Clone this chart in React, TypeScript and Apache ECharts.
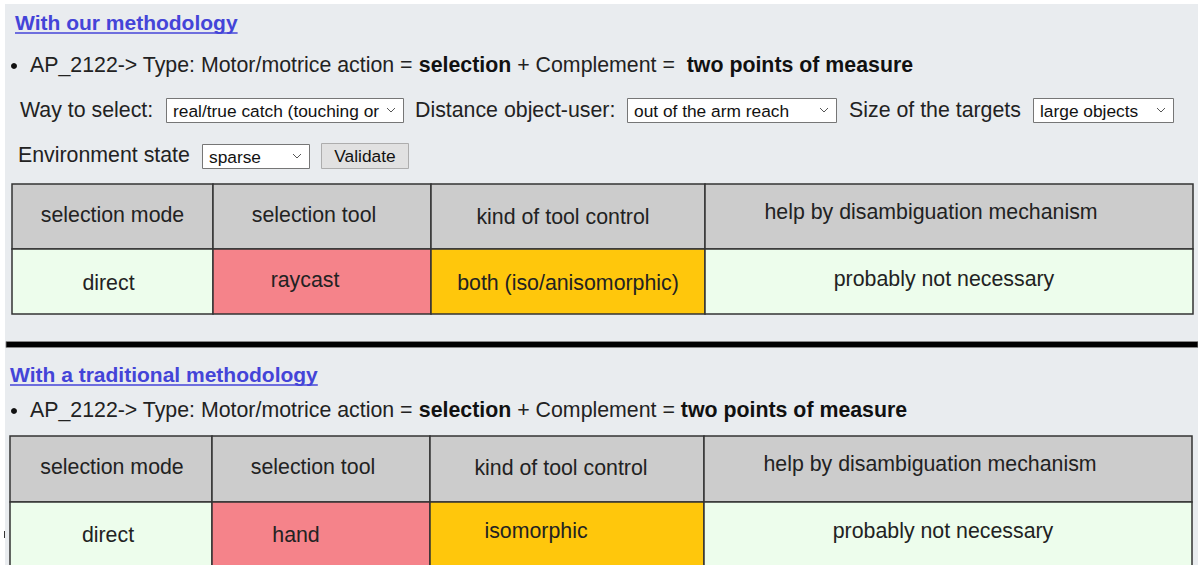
import React, { useEffect, useRef } from 'react';
import * as echarts from 'echarts';

// ---- data ----
const sectionTitles = ['With our methodology', 'With a traditional methodology'];
const apCode = 'AP_2122';
const actionType = 'selection';
const complement = 'two points of measure';
const filterLabels = ['Way to select:', 'Distance object-user:', 'Size of the targets', 'Environment state'];
const filterValues = ['real/true catch (touching or', 'out of the arm reach', 'large objects', 'sparse'];
const buttonLabel = 'Validate';
const columnHeaders = ['selection mode', 'selection tool', 'kind of tool control', 'help by disambiguation mechanism'];
const ourResults = ['direct', 'raycast', 'both (iso/anisomorphic)', 'probably not necessary'];
const traditionalResults = ['direct', 'hand', 'isomorphic', 'probably not necessary'];

// ---- styles ----
const FONT = '"Liberation Sans", Arial, Helvetica, sans-serif';
const BODY = 21.33;
const SMALL = 17.33;
const BG = '#e9ecef';
const TEXT = '#222222';
const LINK = '#4444d8';
const HEADER_FILL = '#cccccc';
const CELL_FILLS = ['#edfdec', '#f5838a', '#ffc70c', '#edfdec'];
const BORDER = '#333333';

function measure(text: string, font: string): number {
  const c = document.createElement('canvas').getContext('2d');
  if (!c) return text.length * 10;
  c.font = font;
  return c.measureText(text).width;
}

function txt(x: number, y: number, s: string, o: any = {}) {
  return {
    type: 'text',
    x,
    y,
    silent: true,
    style: {
      text: s,
      fontFamily: FONT,
      fontSize: o.size ?? BODY,
      fontWeight: o.weight ?? 'normal',
      fill: o.fill ?? TEXT,
      align: o.align ?? 'left',
      verticalAlign: 'middle',
    },
  };
}

function link(x: number, y: number, s: string, g: any[]) {
  const size = 21;
  g.push(txt(x, y, s, { size, weight: 'bold', fill: LINK }));
  const w = measure(s, `bold ${size}px ${FONT}`);
  g.push({
    type: 'line',
    silent: true,
    shape: { x1: x, y1: y + 11, x2: x + w, y2: y + 11 },
    style: { stroke: LINK, lineWidth: 1.5 },
  });
}

function bulletLine(y: number, gap: string, g: any[]) {
  g.push({ type: 'circle', silent: true, shape: { cx: 14, cy: y + 1, r: 3 }, style: { fill: '#111' } });
  g.push({
    type: 'text',
    x: 30,
    y,
    silent: true,
    style: {
      text: `{n|${apCode}-> Type: Motor/motrice action = }{b|${actionType}}{n| + Complement = }{b|${gap}${complement}}`,
      verticalAlign: 'middle',
      rich: {
        n: { fontFamily: FONT, fontSize: BODY, fill: TEXT },
        b: { fontFamily: FONT, fontSize: BODY, fontWeight: 'bold', fill: '#111' },
      },
    },
  });
}

function select(x1: number, x2: number, y1: number, y2: number, value: string, g: any[]) {
  g.push({
    type: 'rect',
    silent: true,
    shape: { x: x1 + 0.5, y: y1 + 0.5, width: x2 - x1, height: y2 - y1 },
    style: { fill: '#ffffff', stroke: '#767676', lineWidth: 1 },
  });
  g.push(txt(x1 + 7, (y1 + y2) / 2 + 1, value, { size: SMALL, fill: '#111' }));
  const cx = x2 - 12;
  const cy = (y1 + y2) / 2;
  g.push({
    type: 'polyline',
    silent: true,
    shape: { points: [[cx - 4, cy - 2], [cx, cy + 2], [cx + 4, cy - 2]] },
    style: { stroke: '#555', lineWidth: 1, fill: 'none' },
  });
}

function table(
  edges: number[],
  y0: number,
  h: number,
  headers: string[],
  values: string[],
  hOff: number[][],
  vOff: number[][],
  g: any[]
) {
  for (let i = 0; i < headers.length; i++) {
    const x1 = edges[i];
    const x2 = edges[i + 1];
    g.push({
      type: 'rect',
      silent: true,
      shape: { x: x1, y: y0, width: x2 - x1, height: h },
      style: { fill: HEADER_FILL, stroke: BORDER, lineWidth: 1.5 },
    });
    g.push({
      type: 'rect',
      silent: true,
      shape: { x: x1, y: y0 + h, width: x2 - x1, height: h },
      style: { fill: CELL_FILLS[i], stroke: BORDER, lineWidth: 1.5 },
    });
    const cx = (x1 + x2) / 2;
    g.push(txt(cx + hOff[i][0], y0 + h / 2 + hOff[i][1], headers[i], { size: BODY, align: 'center' }));
    g.push(txt(cx + vOff[i][0], y0 + h * 1.5 + vOff[i][1], values[i], { size: BODY, align: 'center' }));
  }
}

export default function App() {
  const ref = useRef<HTMLDivElement>(null);
  useEffect(() => {
    const el = ref.current;
    if (!el) return;
    const chart = echarts.init(el, null, { renderer: 'svg' });
    const g: any[] = [];

    // page background
    g.push({ type: 'rect', silent: true, shape: { x: 5, y: 4, width: 1193, height: 561 }, style: { fill: BG } });

    // ----- section 1 -----
    link(15, 22, sectionTitles[0], g);
    bulletLine(65, ' ', g);

    g.push(txt(20, 110, filterLabels[0]));
    select(166, 403, 98, 122, filterValues[0], g);
    g.push(txt(415, 110, filterLabels[1]));
    select(627, 836, 98, 122, filterValues[1], g);
    g.push(txt(849, 110, filterLabels[2]));
    select(1033, 1173, 98, 122, filterValues[2], g);

    g.push(txt(18, 155, filterLabels[3]));
    select(202, 309, 144, 168, filterValues[3], g);
    g.push({
      type: 'rect',
      silent: true,
      shape: { x: 321.5, y: 143.5, width: 87, height: 25 },
      style: { fill: '#e1e1e1', stroke: '#adadad', lineWidth: 1 },
    });
    g.push(txt(365, 156, buttonLabel, { size: SMALL, align: 'center', fill: '#111' }));

    table(
      [12, 213, 431, 705, 1193],
      184,
      65,
      columnHeaders,
      ourResults,
      [[0, -2], [-8, -2], [-5, 0], [-18, -5]],
      [[-4, 1], [-17, -2], [0, 1], [-5, -3]],
      g
    );

    // separator bar
    g.push({
      type: 'rect',
      silent: true,
      shape: { x: 6, y: 341.5, width: 1192, height: 6 },
      style: { fill: '#000000', stroke: '#8a8a8a', lineWidth: 0.8 },
    });

    // ----- section 2 -----
    link(10, 374, sectionTitles[1], g);
    bulletLine(410, '', g);

    table(
      [10, 212, 430, 704, 1192],
      436,
      66,
      columnHeaders,
      traditionalResults,
      [[1, -2], [-8, -2], [-6, -1], [-18, -5]],
      [[-3, 0], [-25, 0], [-31, -4], [-5, -4]],
      g
    );

    // small edge mark
    g.push({
      type: 'line',
      silent: true,
      shape: { x1: 4.5, y1: 531, x2: 4.5, y2: 538 },
      style: { stroke: '#333', lineWidth: 1 },
    });

    chart.setOption({
      animation: false,
      backgroundColor: '#ffffff',
      graphic: { elements: g },
    });
    return () => chart.dispose();
  }, []);
  return <div ref={ref} style={{ position: 'absolute', left: 0, top: 0, width: 1198, height: 565 }} />;
}
